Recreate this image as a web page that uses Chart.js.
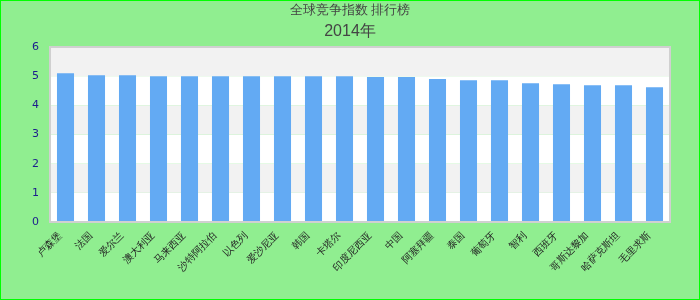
<!DOCTYPE html>
<html lang="zh">
<head>
    <meta charset="UTF-8">
    <title>全球竞争指数 排行榜</title>
    <script src="https://cdn.jsdelivr.net/npm/chart.js"></script>
    <style>
        body { margin: 0; padding: 0; background: #90ee90; }
        #chart { display: block; }
    </style>
</head>
<body>
    <canvas id="chart" width="700" height="300"></canvas>

    <script>
        // 数据
        const categories = ['卢森堡', '法国', '爱尔兰', '澳大利亚', '马来西亚', '沙特阿拉伯', '以色列', '爱沙尼亚', '韩国', '卡塔尔',
                            '印度尼西亚', '中国', '阿塞拜疆', '泰国', '葡萄牙', '智利', '西班牙', '哥斯达黎加', '哈萨克斯坦', '毛里求斯'];
        const values = [5.10, 5.03, 5.03, 5.00, 5.00, 5.00, 5.00, 5.00, 5.00, 5.00,
                        4.97, 4.97, 4.90, 4.86, 4.86, 4.76, 4.72, 4.69, 4.69, 4.62];
        const yTicks = [0, 1, 2, 3, 4, 5, 6];
        const titleText = '全球竞争指数 排行榜';
        const subtitleText = '2014年';

        // 背景和外框
        const backdrop = {
            id: 'backdrop',
            beforeDraw(chart) {
                const c = chart.ctx;
                c.save();
                c.fillStyle = '#90ee90';
                c.fillRect(0, 0, chart.width, chart.height);
                c.strokeStyle = '#00ff00';
                c.lineWidth = 2;
                c.strokeRect(0, 0, chart.width, chart.height);
                c.restore();
            }
        };

        // 绘图区斑马条纹
        const bands = {
            id: 'bands',
            beforeDatasetsDraw(chart) {
                const c = chart.ctx;
                const a = chart.chartArea;
                const y = chart.scales.y;
                c.save();
                for (let i = 0; i < yTicks.length - 1; i++) {
                    const top = y.getPixelForValue(yTicks[i + 1]);
                    const bottom = y.getPixelForValue(yTicks[i]);
                    c.fillStyle = (i % 2 === 0) ? '#ffffff' : '#f2f2f2';
                    c.fillRect(a.left, top, a.right - a.left, bottom - top);
                }
                c.restore();
            },
            afterDatasetsDraw(chart) {
                const c = chart.ctx;
                const a = chart.chartArea;
                c.save();
                c.strokeStyle = '#d0d0d0';
                c.lineWidth = 2;
                c.strokeRect(a.left, a.top, a.right - a.left, a.bottom - a.top);
                c.restore();
            }
        };

        new Chart(document.getElementById('chart'), {
            type: 'bar',
            data: {
                labels: categories,
                datasets: [{
                    data: values,
                    backgroundColor: 'rgb(99,170,243)',
                    barPercentage: 0.55,
                    categoryPercentage: 1
                }]
            },
            options: {
                responsive: false,
                animation: false,
                layout: { padding: 0 },
                plugins: {
                    legend: { display: false },
                    tooltip: { enabled: false },
                    title: {
                        display: true,
                        text: titleText,
                        color: '#444',
                        font: { size: 13, family: 'sans-serif', weight: 'normal', lineHeight: 1.2 },
                        padding: { top: 3, bottom: 0 }
                    },
                    subtitle: {
                        display: true,
                        text: subtitleText,
                        color: '#444',
                        font: { size: 16, family: "'Liberation Sans', Arial, sans-serif", lineHeight: 1.2 },
                        padding: { top: 3, bottom: 6.2 }
                    }
                },
                scales: {
                    x: {
                        grid: { display: false, drawTicks: false },
                        border: { display: false },
                        ticks: {
                            autoSkip: false,
                            maxRotation: 45,
                            minRotation: 45,
                            padding: 8,
                            labelOffset: -5,
                            color: '#222',
                            font: { size: 10, family: 'sans-serif' }
                        },
                        afterFit(scale) { scale.height = 78; }
                    },
                    y: {
                        min: 0,
                        max: 6,
                        grid: { display: false, drawTicks: false },
                        border: { display: false },
                        ticks: {
                            stepSize: 1,
                            padding: 11,
                            color: '#1c1c8c',
                            font: { size: 11, family: "'DejaVu Sans', sans-serif" }
                        },
                        afterFit(scale) { scale.width = 50; }
                    },
                    // 右侧留白，保持标题居中
                    y2: {
                        position: 'right',
                        grid: { display: false, drawTicks: false },
                        border: { display: false },
                        ticks: { display: false },
                        afterFit(scale) { scale.width = 30; }
                    }
                }
            },
            plugins: [backdrop, bands]
        });
    </script>
</body>
</html>
